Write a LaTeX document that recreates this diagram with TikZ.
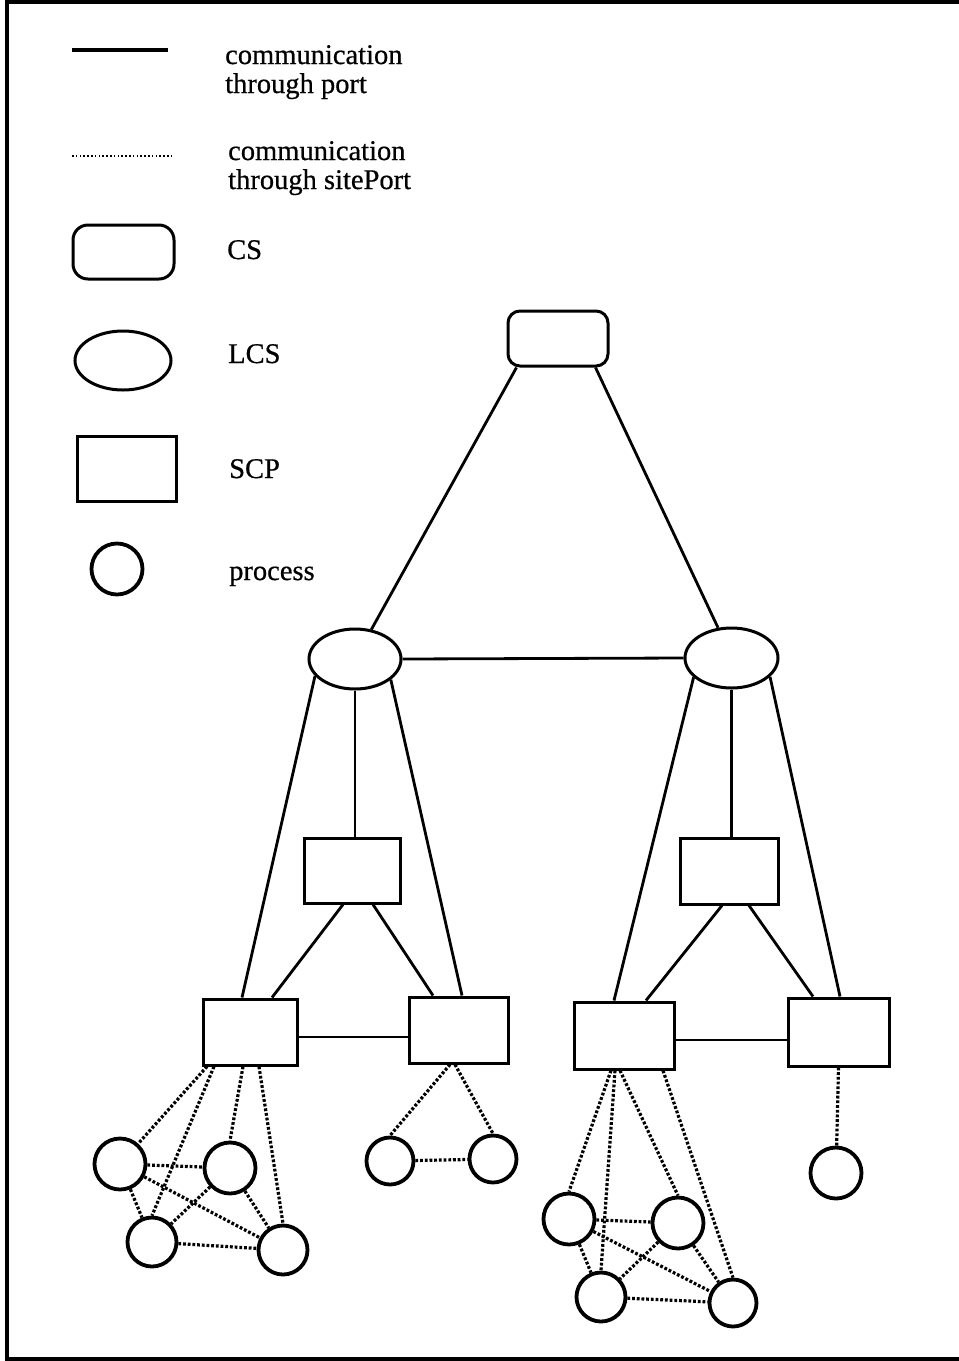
\documentclass[tikz,border=0pt]{standalone}
\usepackage{fontspec}
\setmainfont{Liberation Serif}
\usetikzlibrary{shapes.geometric}
\begin{document}
\begin{tikzpicture}[x=1pt,y=-1pt,
  port/.style={line width=2.8pt},
  siteport/.style={line width=3.2pt, dash pattern=on 2.8pt off 1.9pt},
  csbox/.style={draw, rectangle, line width=3pt, rounded corners=12pt, inner sep=0pt},
  lcs/.style={draw, ellipse, line width=3pt, inner sep=0pt},
  scp/.style={draw, rectangle, line width=3pt, inner sep=0pt},
  proc/.style={draw, circle, line width=3.8pt, inner sep=0pt},
  lbl/.style={inner sep=0pt, anchor=base west, align=left,
    font=\fontsize{28.5}{29}\selectfont\addfontfeature{FakeBold=0.6}}
]
\useasboundingbox (0,0) rectangle (959,1361);
\clip (0,0) rectangle (959,1361);

% outer frame
\draw[line width=3.8pt] (7,2) rectangle (966,1359);

% ---------- legend ----------
\coordinate (lgPortA) at (72,50);
\coordinate (lgPortB) at (168,50);
\draw[line width=4pt] (lgPortA) -- (lgPortB);
\node[lbl] (tPort) at (225,93) {communication\\through port};

\coordinate (lgSiteA) at (72,156);
\coordinate (lgSiteB) at (172,156);
\draw[line width=2.4pt, dash pattern=on 1.6pt off 2.2pt] (lgSiteA) -- (lgSiteB);
\node[lbl] (tSite) at (228,189) {communication\\through sitePort};

\node[csbox, rounded corners=15pt, minimum width=101pt, minimum height=54pt] (lgCS) at (123.5,252) {};
\node[lbl] (tCS) at (227,259) {CS};

\node[lcs, minimum width=96pt, minimum height=59pt] (lgLCS) at (123,360.5) {};
\node[lbl] (tLCS) at (228,363) {LCS};

\node[scp, minimum width=99pt, minimum height=65pt] (lgSCP) at (126.5,468.5) {};
\node[lbl] (tSCP) at (229,478) {SCP};

\node[proc, minimum size=51pt] (lgProc) at (117,569) {};
\node[lbl] (tProc) at (229,580) {process};

% ---------- hierarchy ----------
\node[csbox, minimum width=100pt, minimum height=55pt] (cs) at (558,338.5) {};

\node[lcs, minimum width=92pt, minimum height=60pt] (lcsL) at (355,659) {};
\node[lcs, minimum width=93pt, minimum height=60pt] (lcsR) at (731.5,658) {};

\node[scp, minimum width=96pt, minimum height=65pt] (scpML) at (352,870.5) {};
\node[scp, minimum width=98pt, minimum height=66pt] (scpMR) at (729,871) {};

\node[scp, minimum width=94pt, minimum height=66pt] (scpA) at (250,1032) {};
\node[scp, minimum width=99pt, minimum height=66pt] (scpB) at (458.5,1030) {};
\node[scp, minimum width=100pt, minimum height=67pt] (scpC) at (624,1035.5) {};
\node[scp, minimum width=101pt, minimum height=68pt] (scpD) at (838.5,1032) {};

% processes
\node[proc, minimum size=51pt] (p1) at (120,1164) {};
\node[proc, minimum size=51pt] (p2) at (230,1168) {};
\node[proc, minimum size=49pt] (p3) at (152,1242) {};
\node[proc, minimum size=49pt] (p4) at (283,1250) {};
\node[proc, minimum size=47pt] (p5) at (390,1161) {};
\node[proc, minimum size=47pt] (p6) at (493,1159) {};
\node[proc, minimum size=51pt] (p7) at (569,1219) {};
\node[proc, minimum size=51pt] (p8) at (678,1223) {};
\node[proc, minimum size=49pt] (p9) at (601,1297) {};
\node[proc, minimum size=47pt] (p10) at (733,1303) {};
\node[proc, minimum size=51pt] (p11) at (836,1173) {};

% port links
\draw[port] ([xshift=10pt]cs.south west) -- (lcsL.61);
\draw[port] ([xshift=-14pt]cs.south east) -- (lcsR.114);
\draw[port] (lcsL.east) -- (lcsR.west);

\draw[port] (lcsL.south) -- (lcsL.south |- scpML.north);
\draw[port] (lcsL.203) -- ([xshift=-8pt]scpA.north);
\draw[port] (lcsL.330) -- ([xshift=3.5pt]scpB.north);
\draw[port] ([xshift=-9pt]scpML.south) -- ([xshift=22pt]scpA.north);
\draw[port] ([xshift=21pt]scpML.south) -- ([xshift=-25.5pt]scpB.north);
\draw[port] ([yshift=-5pt]scpA.east) -- ([yshift=-5pt]scpA.east -| scpB.west);

\draw[port] (lcsR.south) -- (lcsR.south |- scpMR.north);
\draw[port] (lcsR.207) -- ([xshift=-10pt]scpC.north);
\draw[port] (lcsR.334) -- ([xshift=1.5pt]scpD.north);
\draw[port] ([xshift=-7pt]scpMR.south) -- ([xshift=22pt]scpC.north);
\draw[port] ([xshift=20pt]scpMR.south) -- ([xshift=-25.5pt]scpD.north);
\draw[port] ([yshift=-4.5pt]scpC.east) -- ([yshift=-4.5pt]scpC.east -| scpD.west);

% sitePort links
\draw[siteport] ([xshift=-43pt]scpA.south) -- (p1);
\draw[siteport] ([xshift=-36pt]scpA.south) -- (p3.north);
\draw[siteport] ([xshift=-7pt]scpA.south) -- (p2.north);
\draw[siteport] ([xshift=9pt]scpA.south) -- (p4.north);
\draw[siteport] (p1) -- (p2);
\draw[siteport] (p1) -- (p3);
\draw[siteport] (p1) -- (p4);
\draw[siteport] (p2) -- (p3);
\draw[siteport] (p2) -- (p4);
\draw[siteport] (p3) -- (p4);

\draw[siteport] ([xshift=-8.5pt]scpB.south) -- (p5.north);
\draw[siteport] ([xshift=-3.5pt]scpB.south) -- (p6.north);
\draw[siteport] (p5) -- (p6);

\draw[siteport] ([xshift=-13pt]scpC.south) -- (p7.north);
\draw[siteport] ([xshift=-9pt]scpC.south) -- (p9.north);
\draw[siteport] ([xshift=-4pt]scpC.south) -- (p8.north);
\draw[siteport] ([xshift=39pt]scpC.south) -- (p10.north);
\draw[siteport] (p7) -- (p8);
\draw[siteport] (p7) -- (p9);
\draw[siteport] (p7) -- (p10);
\draw[siteport] (p8) -- (p9);
\draw[siteport] (p8) -- (p10);
\draw[siteport] (p9) -- (p10);

\draw[siteport] (scpD.south) -- (p11);
\end{tikzpicture}
\end{document}
